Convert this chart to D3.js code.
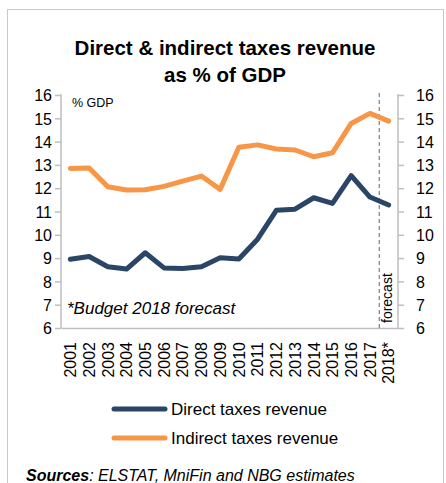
<!DOCTYPE html>
<html>
<head>
<meta charset="utf-8">
<script src="https://cdn.jsdelivr.net/npm/d3@7"></script>
<style>
  html, body { margin: 0; padding: 0; background: #fff; }
  svg { display: block; font-family: "Liberation Sans", Arial, sans-serif; }
</style>
</head>
<body>
<svg id="chart" width="446" height="483"></svg>
<script>
// Years on the category axis (2018 is the budget forecast)
const years = ["2001","2002","2003","2004","2005","2006","2007","2008","2009",
               "2010","2011","2012","2013","2014","2015","2016","2017","2018*"];
// Direct taxes revenue, % of GDP
const directTaxes = [8.95, 9.07, 8.63, 8.53, 9.23, 8.58, 8.55, 8.63, 9.02,
                     8.96, 9.81, 11.05, 11.1, 11.59, 11.35, 12.54, 11.62, 11.28];
// Indirect taxes revenue, % of GDP
const indirectTaxes = [12.85, 12.87, 12.06, 11.92, 11.93, 12.08, 12.3, 12.52, 11.95,
                       13.76, 13.86, 13.68, 13.64, 13.35, 13.52, 14.78, 15.21, 14.88];
const yTicks = [6, 7, 8, 9, 10, 11, 12, 13, 14, 15, 16];
const seriesNames = ["Direct taxes revenue", "Indirect taxes revenue"];
const forecastStart = "2018*";

const colors = { direct: "#2a4566", indirect: "#f79646", axis: "#bfbfbf" };

const svg = d3.select("#chart");

// Outer frame
svg.append("rect")
  .attr("x", 7.5).attr("y", 9.5)
  .attr("width", 436).attr("height", 490)
  .attr("fill", "none").attr("stroke", "#c8c8c8").attr("stroke-width", 1);

// Title
const title = svg.append("text")
  .attr("text-anchor", "middle")
  .attr("font-weight", "bold")
  .attr("font-size", 20.5)
  .attr("fill", "#000");
title.append("tspan").attr("x", 225).attr("y", 55).text("Direct & indirect taxes revenue");
title.append("tspan").attr("x", 225).attr("y", 82).text("as % of GDP");

const plot = { left: 61, right: 398, top: 95, bottom: 328 };

const x = d3.scaleBand().domain(years).range([plot.left, plot.right]);
const xc = d => x(d) + x.bandwidth() / 2;
const y = d3.scaleLinear().domain([6, 16]).range([plot.bottom, plot.top]);

// Left axis
const leftAxis = svg.append("g")
  .attr("transform", `translate(${plot.left},0)`)
  .call(d3.axisLeft(y).tickValues(yTicks).tickSize(6).tickPadding(3).tickFormat(d3.format("d")));
// Right axis
const rightAxis = svg.append("g")
  .attr("transform", `translate(${plot.right},0)`)
  .call(d3.axisRight(y).tickValues(yTicks).tickSize(6).tickPadding(12).tickFormat(d3.format("d")));
// Bottom axis
const bottomAxis = svg.append("g")
  .attr("transform", `translate(0,${plot.bottom})`)
  .call(d3.axisBottom(x).tickSize(0).tickPadding(0));

[leftAxis, rightAxis, bottomAxis].forEach(g => {
  g.select(".domain").attr("stroke", colors.axis).attr("stroke-width", 1.5);
  g.selectAll(".tick line").attr("stroke", colors.axis).attr("stroke-width", 1.5);
  g.selectAll("text").attr("fill", "#000").attr("font-family", "Liberation Sans, Arial, sans-serif");
});
leftAxis.select(".domain").attr("d", `M0,${plot.top - 1}V${plot.bottom}`);
rightAxis.select(".domain").attr("d", `M0,${plot.top - 1}V${plot.bottom}`);
leftAxis.selectAll("text").attr("font-size", 16).attr("dy", "0.36em");
rightAxis.selectAll("text").attr("font-size", 16).attr("dy", "0.36em");

bottomAxis.selectAll(".tick text")
  .attr("font-size", 16)
  .attr("text-anchor", "end")
  .attr("transform", "translate(0,14) rotate(-90)")
  .attr("x", 0).attr("y", 0)
  .attr("dy", "0.36em");

// Forecast divider between 2017 and 2018*
const divX = x(forecastStart);
svg.append("line")
  .attr("x1", divX).attr("x2", divX)
  .attr("y1", plot.top - 2).attr("y2", plot.bottom)
  .attr("stroke", "#7f7f7f").attr("stroke-width", 1.2)
  .attr("stroke-dasharray", "4,3");
svg.append("text")
  .attr("transform", `translate(${divX + 13},${plot.bottom - 5}) rotate(-90)`)
  .attr("font-size", 14)
  .attr("fill", "#000")
  .text("forecast");

// Notes inside the plot
svg.append("text").attr("x", 72).attr("y", 107)
  .attr("font-size", 12.5).attr("fill", "#000").text("% GDP");
svg.append("text").attr("x", 67).attr("y", 314)
  .attr("font-size", 17).attr("font-style", "italic").attr("fill", "#000")
  .text("*Budget 2018 forecast");

// Series lines
const line = d3.line().x((d, i) => xc(years[i])).y(d => y(d));
svg.append("path").datum(indirectTaxes)
  .attr("d", line).attr("fill", "none")
  .attr("stroke", colors.indirect).attr("stroke-width", 5)
  .attr("stroke-linejoin", "round").attr("stroke-linecap", "round");
svg.append("path").datum(directTaxes)
  .attr("d", line).attr("fill", "none")
  .attr("stroke", colors.direct).attr("stroke-width", 5)
  .attr("stroke-linejoin", "round").attr("stroke-linecap", "round");

// Legend
const legend = svg.append("g");
[[seriesNames[0], colors.direct, 409], [seriesNames[1], colors.indirect, 438]].forEach(([name, c, ly]) => {
  legend.append("line")
    .attr("x1", 114).attr("x2", 165).attr("y1", ly).attr("y2", ly)
    .attr("stroke", c).attr("stroke-width", 5).attr("stroke-linecap", "round");
  legend.append("text")
    .attr("x", 171).attr("y", ly + 6)
    .attr("font-size", 17).attr("fill", "#000").text(name);
});

// Sources
const src = svg.append("text").attr("x", 26).attr("y", 481)
  .attr("font-size", 16).attr("font-style", "italic").attr("fill", "#000");
src.append("tspan").attr("font-weight", "bold").text("Sources");
src.append("tspan").text(": ELSTAT, MniFin and NBG estimates");
</script>
</body>
</html>
